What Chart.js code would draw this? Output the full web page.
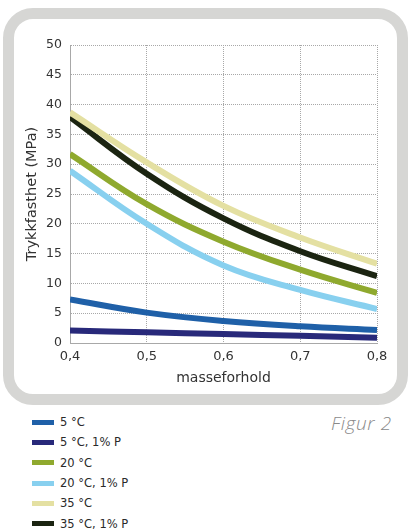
<!DOCTYPE html>
<html>
<head>
<meta charset="utf-8">
<script src="https://cdn.jsdelivr.net/npm/chart.js@4/dist/chart.umd.min.js"></script>
<style>
  html, body { margin: 0; padding: 0; background: #fff; }
  body { width: 410px; height: 529px; position: relative; overflow: hidden; font-family: "DejaVu Sans", sans-serif; }
  .frame { position: absolute; left: 3px; top: 8px; width: 383px; height: 375px; border: 11px solid #d6d6d4; border-radius: 30px; background: #fff; }
  #chartBox { position: absolute; left: 0; top: 0; width: 410px; height: 400px; }
  #legend { position: absolute; left: 32px; top: 412px; }
  .item { display: flex; align-items: center; height: 20.3px; font-size: 11.5px; color: #2a2a2a; }
  .swatch { width: 22px; height: 5px; margin-right: 6px; }
  .figur { position: absolute; left: 331px; top: 410px; font-family: "Open Sans", sans-serif; font-style: italic; font-weight: 300; font-size: 19px; color: #8a8a8a; letter-spacing: 0.6px; }
</style>
</head>
<body>
<div class="frame"></div>
<div id="chartBox"><canvas id="chart" width="410" height="400"></canvas></div>
<div id="legend"></div>
<div class="figur">Figur 2</div>
<script>
const ratios = [0.4, 0.5, 0.6, 0.7, 0.8];
const yTicks = [0, 5, 10, 15, 20, 25, 30, 35, 40, 45, 50];
const seriesNames = ["5 °C", "5 °C, 1% P", "20 °C", "20 °C, 1% P", "35 °C", "35 °C, 1% P"];
const seriesColors = ["#1f60a8", "#28297a", "#8fa92e", "#88d0ef", "#e4e0a2", "#1b2411"];
const t5 = [7.3, 5.1, 3.7, 2.8, 2.2];
const t5p = [2.1, 1.8, 1.5, 1.2, 0.9];
const t20 = [31.7, 23.3, 17.0, 12.3, 8.4];
const t20p = [28.9, 20.0, 13.0, 8.9, 5.7];
const t35 = [38.7, 30.3, 23.0, 17.7, 13.3];
const t35p = [37.9, 28.4, 20.9, 15.4, 11.2];
const seriesValues = [t5, t5p, t20, t20p, t35, t35p];

const gridColor = "#a8a8a8";

const datasets = seriesValues.map((vals, i) => ({
  label: seriesNames[i],
  data: vals.map((v, j) => ({ x: ratios[j], y: v })),
  borderColor: seriesColors[i],
  borderWidth: 6,
  pointRadius: 0,
  fill: false,
  tension: 0.4
}));

new Chart(document.getElementById("chart"), {
  type: "line",
  data: { datasets },
  options: {
    responsive: false,
    animation: false,
    layout: { padding: { top: 45, left: 0, right: 33, bottom: 7 } },
    plugins: { legend: { display: false }, tooltip: { enabled: false } },
    scales: {
      x: {
        type: "linear",
        min: 0.4,
        max: 0.8,
        afterFit: (s) => { s.height = 50; },
        afterBuildTicks: (s) => { s.ticks = ratios.map((v) => ({ value: v })); },
        ticks: {
          color: "#333",
          font: { family: "DejaVu Sans", size: 13 },
          padding: 6,
          callback: (v) => v.toFixed(1).replace(".", ",")
        },
        grid: { color: gridColor, lineWidth: 1, drawTicks: false },
        border: { color: gridColor, dash: [1, 1] },
        title: { display: true, text: "masseforhold", color: "#333", font: { family: "DejaVu Sans", size: 14 }, padding: { top: 0, bottom: 6 } }
      },
      y: {
        min: 0,
        max: 50,
        afterFit: (s) => { s.width = 70; },
        afterBuildTicks: (s) => { s.ticks = yTicks.map((v) => ({ value: v })); },
        ticks: { color: "#333", font: { family: "DejaVu Sans", size: 12.5 }, padding: 8 },
        grid: { color: gridColor, lineWidth: 1, drawTicks: false },
        border: { color: gridColor, dash: [1, 1] },
        title: { display: true, text: "Trykkfasthet (MPa)", color: "#333", font: { family: "DejaVu Sans", size: 14.5 }, padding: { top: 24, bottom: 0 } }
      }
    }
  }
});

document.getElementById("legend").innerHTML = seriesNames.map((name, i) => `
  <div class="item"><span class="swatch" style="background:${seriesColors[i]}"></span>${name}</div>
`).join("");
</script>
</body>
</html>
